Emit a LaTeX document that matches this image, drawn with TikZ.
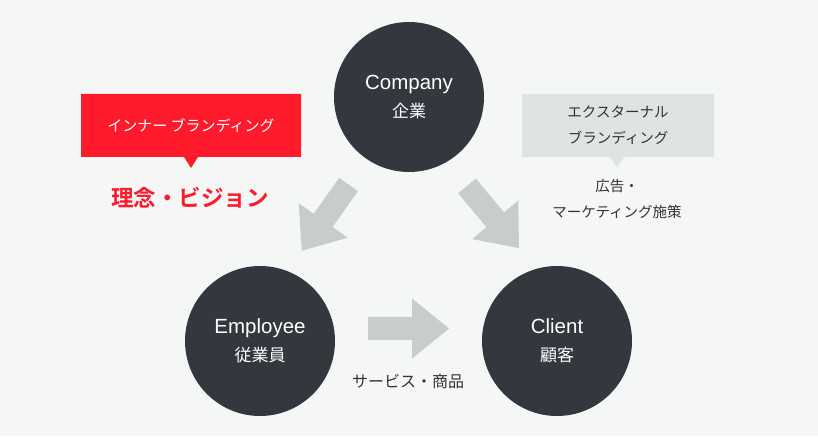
\documentclass[tikz,border=0pt]{standalone}
\usepackage{fontspec}
\setmainfont{Noto Sans CJK JP}[BoldFont={Noto Sans CJK JP Bold}]
\newfontfamily\latinfont{Liberation Sans}
\usetikzlibrary{shapes.callouts}

\definecolor{canvas}{HTML}{F5F6F6}
\definecolor{hubfill}{HTML}{33383F}
\definecolor{brandred}{HTML}{FF1A2C}
\definecolor{tagfill}{HTML}{DFE3E3}
\definecolor{flowfill}{HTML}{C6CDCC}
\definecolor{ink}{HTML}{333333}

\begin{document}
\begin{tikzpicture}[
  x=1pt, y=1pt,
  hub/.style={circle, fill=hubfill, minimum size=150pt, inner sep=0pt, text=white, align=center,
    font=\fontsize{17}{28}\selectfont},
  tag/.style={rectangle callout, minimum height=63pt, inner sep=0pt, align=center,
    callout pointer width=14pt},
  note/.style={text=ink, align=center, font=\fontsize{14.5}{26}\selectfont},
  flow/.style={fill=flowfill}
]
\fill[canvas] (0,0) rectangle (818,436);
\useasboundingbox (0,0) rectangle (818,436);

\node[hub] (company) at (409,339) {{\latinfont\fontsize{20.5}{28}\selectfont Company}\\企業};
\node[hub] (employee) at (260,95) {{\latinfont\fontsize{20.5}{28}\selectfont Employee}\\従業員};
\node[hub] (client) at (557,95) {{\latinfont\fontsize{20.5}{28}\selectfont Client}\\顧客};

% big arrows
\foreach \x/\y/\ang in {348.5/251.5/234.8, 467/250/309.9, 368/107.5/0}
  \fill[flow, shift={(\x,\y)}, rotate=\ang]
    (0,-11.5) -- (44,-11.5) -- (44,-30) -- (81,0) -- (44,30) -- (44,11.5) -- (0,11.5) -- cycle;

\node[tag, fill=brandred, text=white, minimum width=220pt, font=\fontsize{15}{26}\selectfont,
  callout absolute pointer={(191,268)}] (inner) at (191,310.5) {インナー ブランディング};
\node[text=brandred, font=\bfseries\fontsize{22.5}{26}\selectfont] (vision) at (190,238) {理念・ビジョン};

\node[tag, fill=tagfill, text=ink, minimum width=192pt, font=\fontsize{14.5}{26}\selectfont,
  callout absolute pointer={(617,269)}] (outer) at (618,310.5) {エクスターナル\\ブランディング};
\node[note] (ads) at (617,237) {広告・\\マーケティング施策};

\node[note, font=\fontsize{16}{26}\selectfont] (goods) at (408,55) {サービス・商品};
\end{tikzpicture}
\end{document}
